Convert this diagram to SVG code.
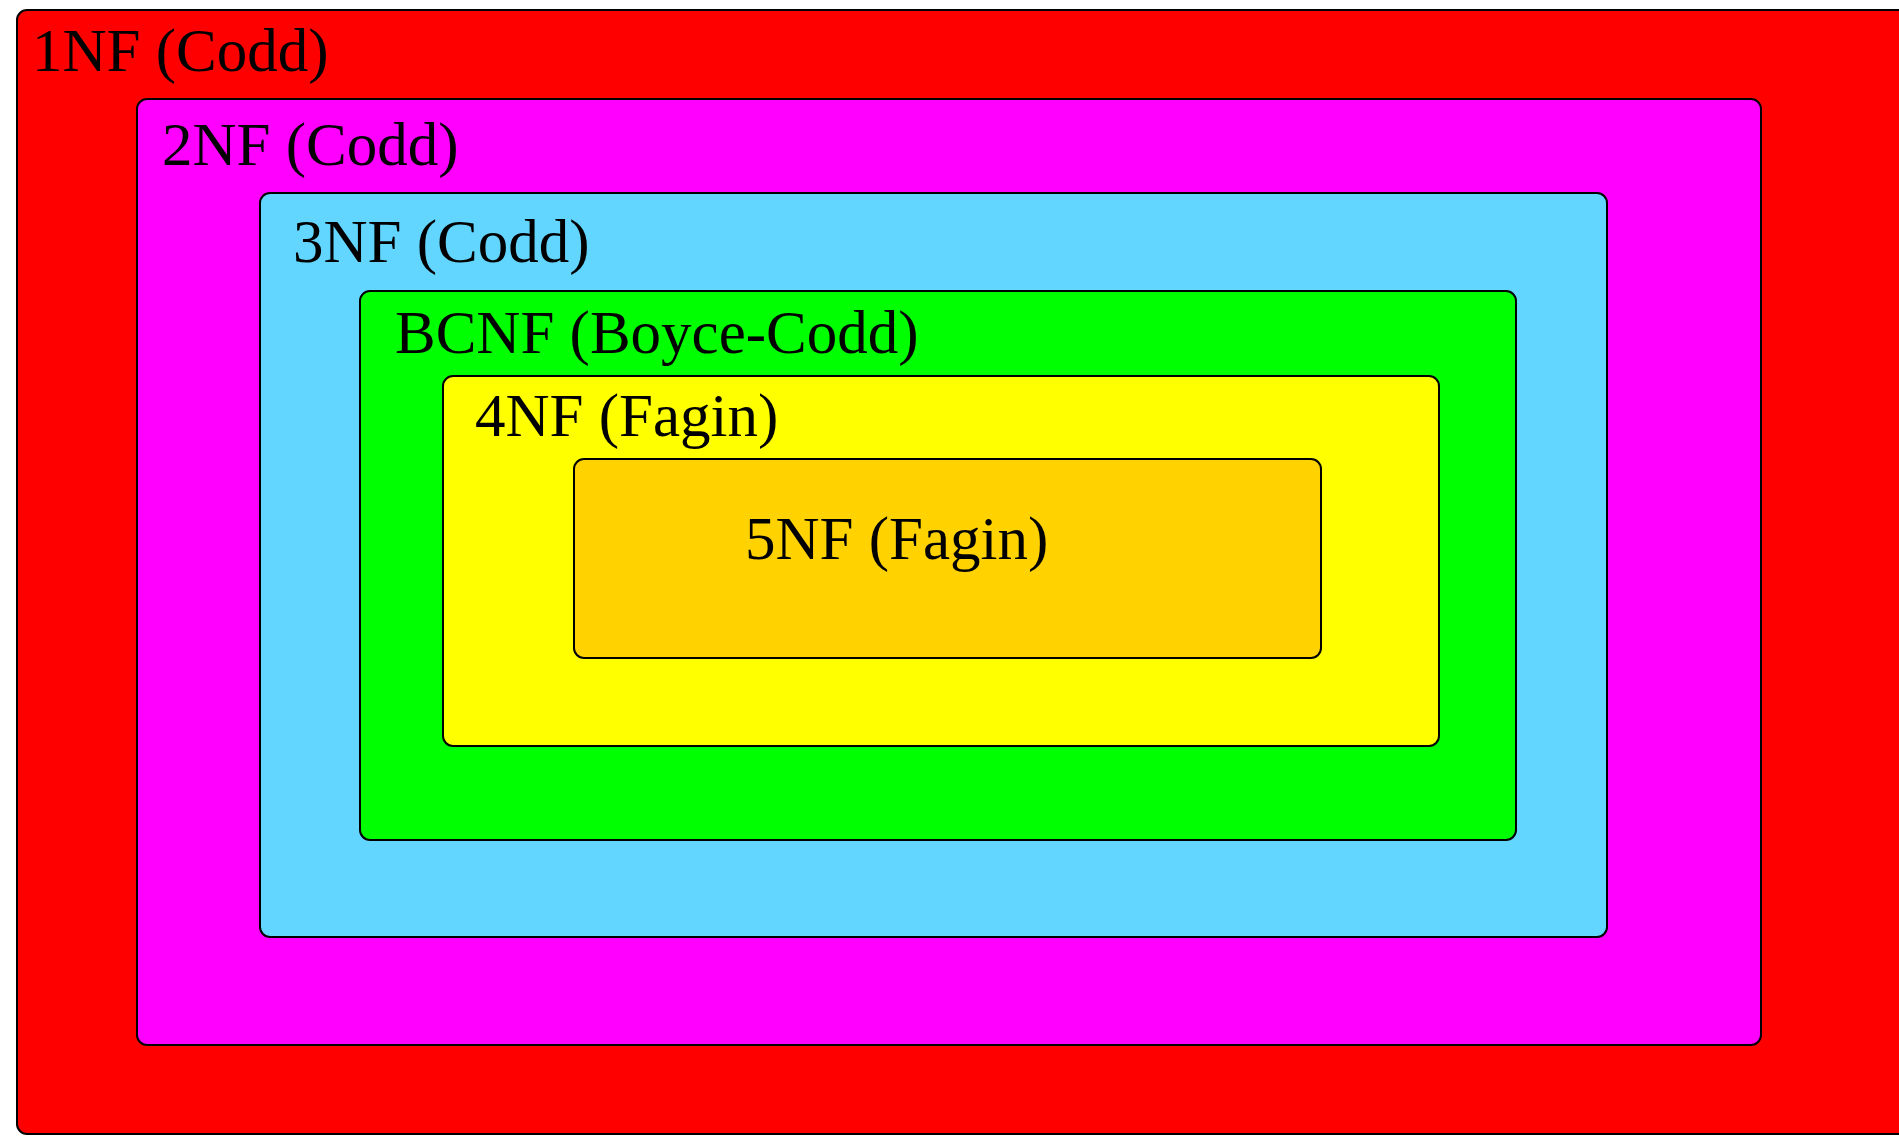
<svg xmlns="http://www.w3.org/2000/svg" width="1899" height="1136" viewBox="0 0 1899 1136">
<style>
.box{stroke:#000;stroke-width:2}
.lbl{font-family:"Liberation Serif","Times New Roman",serif;font-size:61px;fill:#000}
</style>
<rect width="1899" height="1136" fill="#fff"/>
<g id="nf1"><rect class="box" x="17" y="10" width="1910" height="1124" rx="10" fill="#ff0000"/><text class="lbl" x="32" y="71">1NF (Codd)</text></g>
<g id="nf2"><rect class="box" x="137" y="99" width="1624" height="946" rx="10" fill="#ff00ff"/><text class="lbl" x="162" y="165">2NF (Codd)</text></g>
<g id="nf3"><rect class="box" x="260" y="193" width="1347" height="744" rx="10" fill="#62d6ff"/><text class="lbl" x="293" y="262">3NF (Codd)</text></g>
<g id="bcnf"><rect class="box" x="360" y="291" width="1156" height="549" rx="10" fill="#00ff00"/><text class="lbl" x="395" y="353">BCNF (Boyce-Codd)</text></g>
<g id="nf4"><rect class="box" x="443" y="376" width="996" height="370" rx="10" fill="#ffff00"/><text class="lbl" x="475" y="436">4NF (Fagin)</text></g>
<g id="nf5"><rect class="box" x="574" y="459" width="747" height="199" rx="10" fill="#ffd200"/><text class="lbl" x="745" y="559">5NF (Fagin)</text></g>
<g id="connectors"/>
</svg>
